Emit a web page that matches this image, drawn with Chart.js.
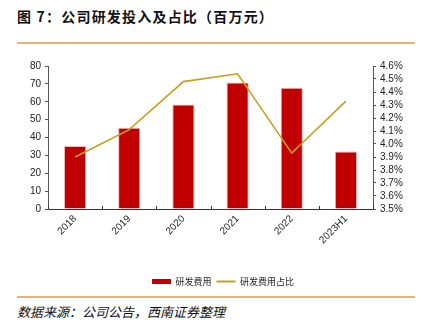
<!DOCTYPE html>
<html>
<head>
<meta charset="utf-8">
<script src="https://cdn.jsdelivr.net/npm/chart.js@4"></script>
<style>
  html, body { margin: 0; padding: 0; background: #fff; }
  body { width: 422px; height: 327px; position: relative; overflow: hidden; font-family: "Noto Sans CJK SC", sans-serif; }
  #title { position: absolute; left: 17px; top: 6px; font-size: 14px; font-weight: bold; color: #111; letter-spacing: 1.2px; white-space: nowrap; }
  .rule { position: absolute; left: 17px; width: 398px; height: 2px; background: #E2B574; }
  #source { position: absolute; left: 17px; top: 302px; font-size: 13px; font-style: italic; color: #111; white-space: nowrap; }
  #wrap { position: absolute; left: 0; top: 44px; width: 422px; height: 252px; }
</style>
</head>
<body>
<div id="title">图 7：公司研发投入及占比（百万元）</div>
<div class="rule" style="top:42px"></div>
<div id="wrap"><canvas id="myChart"></canvas></div>
<div class="rule" style="top:296px"></div>
<div id="source">数据来源：公司公告，西南证券整理</div>
<script>
// 数据
const years = ['2018', '2019', '2020', '2021', '2022', '2023H1'];
const rdExpense = [35.3, 45.5, 58.5, 70.8, 67.8, 32.2];
const rdRatio = [3.90, 4.11, 4.48, 4.54, 3.93, 4.33];

const tickFont = { family: 'Arial, "Liberation Sans", sans-serif', size: 10 };

// 画在图内侧的 x 轴刻度线
const innerTicks = {
    id: 'innerTicks',
    afterLayout(chart) {
        // 图例整体稍向右移，居中于绘图区
        chart.legend.left += 12;
        chart.legend.right += 12;
    },
    afterDraw(chart) {
        const x = chart.scales.x;
        const ctx = chart.ctx;
        const bottom = chart.chartArea.bottom;
        ctx.save();
        ctx.strokeStyle = '#333';
        ctx.lineWidth = 1;
        for (let i = 0; i <= years.length; i++) {
            const px = Math.round(x.left + (x.right - x.left) * i / years.length) + 0.5;
            ctx.beginPath();
            ctx.moveTo(px, bottom);
            ctx.lineTo(px, bottom - 3);
            ctx.stroke();
        }
        ctx.restore();
    }
};

const ctx = document.getElementById('myChart').getContext('2d');

const myChart = new Chart(ctx, {
    data: {
        labels: years,
        datasets: [
            {
                type: 'line',
                label: '研发费用占比',
                data: rdRatio,
                yAxisID: 'y1',
                borderColor: '#C9A01E',
                backgroundColor: '#C9A01E',
                borderWidth: 1.6,
                pointRadius: 0,
                tension: 0
            },
            {
                type: 'bar',
                label: '研发费用',
                data: rdExpense,
                yAxisID: 'y',
                backgroundColor: '#C00000',
                borderColor: '#F2B8B8',
                borderWidth: 1,
                categoryPercentage: 1,
                barPercentage: 0.41
            }
        ]
    },
    options: {
        responsive: true,
        maintainAspectRatio: false,
        animation: false,
        layout: { padding: { top: 22, left: 0, right: 0, bottom: 0 } },
        plugins: {
            legend: {
                position: 'bottom',
                reverse: true,
                labels: {
                    font: { family: '"Noto Sans CJK SC", sans-serif', size: 9 },
                    color: '#222',
                    usePointStyle: true,
                    pointStyleWidth: 19,
                    boxHeight: 5,
                    padding: 5,
                    generateLabels(chart) {
                        return chart.data.datasets.map((ds, i) => ({
                            text: ds.label,
                            pointStyle: ds.type === 'bar' ? 'rect' : 'line',
                            fillStyle: ds.type === 'bar' ? ds.backgroundColor : ds.borderColor,
                            strokeStyle: ds.type === 'bar' ? ds.backgroundColor : ds.borderColor,
                            lineWidth: ds.type === 'bar' ? 0 : 2,
                            fontColor: '#222',
                            datasetIndex: i
                        }));
                    }
                }
            },
            tooltip: { enabled: false }
        },
        scales: {
            x: {
                grid: { display: false, drawTicks: false },
                border: { color: '#333' },
                ticks: { font: tickFont, color: '#222', maxRotation: 45, minRotation: 45, padding: 4 },
                afterFit(scale) { scale.height = 63; }
            },
            y: {
                position: 'left',
                min: 0,
                max: 80,
                ticks: { stepSize: 10, font: tickFont, color: '#222', padding: 4 },
                grid: { drawOnChartArea: false, tickLength: 3, color: '#555' },
                border: { color: '#555' },
                afterFit(scale) { scale.width = 48; }
            },
            y1: {
                position: 'right',
                min: 3.5,
                max: 4.6,
                ticks: {
                    stepSize: 0.1,
                    autoSkip: false,
                    font: { family: '"Liberation Sans Narrow", Arial, sans-serif', size: 10 },
                    color: '#222',
                    padding: 4,
                    callback: (v) => v.toFixed(1) + '%'
                },
                grid: { drawOnChartArea: false, tickLength: 3, color: '#555' },
                border: { color: '#555' },
                afterFit(scale) { scale.width = 49; }
            }
        }
    },
    plugins: [innerTicks]
});
</script>
</body>
</html>
